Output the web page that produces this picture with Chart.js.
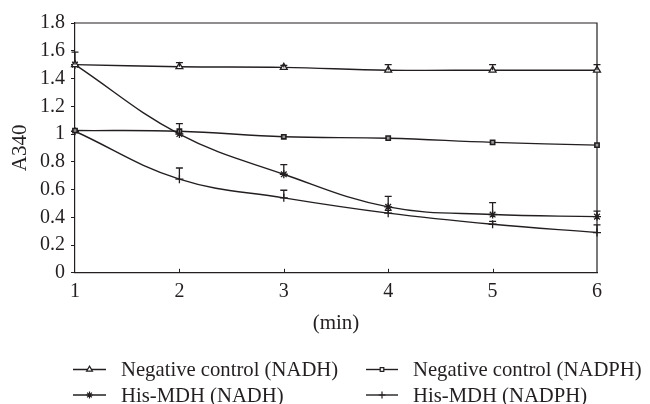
<!DOCTYPE html>
<html>
<head>
<meta charset="utf-8">
<script src="https://cdn.jsdelivr.net/npm/chart.js@4/dist/chart.umd.min.js"></script>
<style>
  html, body { margin: 0; padding: 0; background: #ffffff; }
  #wrap { width: 650px; height: 404px; position: relative; }
</style>
</head>
<body>
<div id="wrap"><canvas id="c" width="650" height="404"></canvas></div>
<script>
// ---- data ----
const timeLabels = ['1', '2', '3', '4', '5', '6'];
const yTickValues = [0, 0.2, 0.4, 0.6, 0.8, 1, 1.2, 1.4, 1.6, 1.8];

const seriesNames = ['Negative control (NADH)', 'Negative control (NADPH)', 'His-MDH (NADH)', 'His-MDH (NADPH)'];

const negNADH      = [1.50, 1.485, 1.48, 1.46, 1.46, 1.46];
const negNADHErr   = [0.00, 0.03, 0.015, 0.04, 0.04, 0.04];

const negNADPH     = [1.025, 1.02, 0.98, 0.97, 0.94, 0.92];
const negNADPHErr  = [0.00, 0.00, 0.00, 0.00, 0.00, 0.00];

const hisNADH      = [1.50, 1.00, 0.71, 0.475, 0.42, 0.405];
const hisNADHErr   = [0.09, 0.075, 0.07, 0.075, 0.085, 0.04];

const hisNADPH     = [1.02, 0.675, 0.54, 0.43, 0.35, 0.29];
const hisNADPHErr  = [0.00, 0.08, 0.055, 0.02, 0.02, 0.055];

const pointStyles = ['triangle', 'rect', 'star', 'cross'];
const seriesValues = [negNADH, negNADPH, hisNADH, hisNADPH];
const seriesErrors = [negNADHErr, negNADPHErr, hisNADHErr, hisNADPHErr];

// ---- styles ----
const INK = '#231f20';
const FONT = "'Liberation Serif', 'Times New Roman', serif";
const pointRadii = [4, 3, 4, 4];

const datasets = seriesNames.map((name, i) => ({
  label: name,
  data: seriesValues[i],
  errors: seriesErrors[i],
  borderColor: INK,
  backgroundColor: '#ffffff',
  borderWidth: 1.4,
  tension: 0.4,
  pointStyle: pointStyles[i],
  pointRadius: pointRadii[i],
  pointBorderWidth: i === 1 ? 1.6 : 1.3,
  pointBackgroundColor: i === 1 ? '#9a9a9a' : '#ffffff',
  pointBorderColor: INK,
  clip: false
}));

// error bars (upward, with cap)
const errorBars = {
  id: 'errorBars',
  afterDatasetsDraw(chart) {
    const ctx = chart.ctx;
    const xs = chart.scales.x, ys = chart.scales.y;
    ctx.save();
    ctx.strokeStyle = INK;
    ctx.lineWidth = 1.3;
    chart.data.datasets.forEach(ds => {
      ds.data.forEach((v, i) => {
        const e = ds.errors[i];
        if (!e) return;
        const x = xs.getPixelForValue(i);
        const y0 = ys.getPixelForValue(v);
        const y1 = ys.getPixelForValue(v + e);
        ctx.beginPath();
        ctx.moveTo(x, y0);
        ctx.lineTo(x, y1);
        ctx.moveTo(x - 3.5, y1);
        ctx.lineTo(x + 3.5, y1);
        ctx.stroke();
      });
    });
    ctx.restore();
  }
};

// frame (top + right) and inward x tick marks
const frame = {
  id: 'frame',
  beforeDatasetsDraw(chart) {
    const {ctx, chartArea: a} = chart;
    const xs = chart.scales.x;
    ctx.save();
    ctx.strokeStyle = INK;
    ctx.lineWidth = 1.2;
    ctx.beginPath();
    ctx.moveTo(a.left, a.top);
    ctx.lineTo(a.right, a.top);
    ctx.lineTo(a.right, a.bottom);
    ctx.stroke();
    ctx.lineWidth = 1;
    ctx.beginPath();
    for (let i = 1; i < timeLabels.length - 1; i++) {
      const x = Math.round(xs.getPixelForValue(i)) + 0.5;
      ctx.moveTo(x, a.bottom);
      ctx.lineTo(x, a.bottom - 4);
    }
    ctx.stroke();
    ctx.restore();
  }
};

// legend in two columns
const legend2 = {
  id: 'legend2',
  afterDraw(chart) {
    const ctx = chart.ctx;
    const cols = [{x0: 73, x1: 106, tx: 121}, {x0: 366, x1: 398, tx: 413}];
    const rows = [369.5, 395];
    ctx.save();
    ctx.font = "20.7px " + FONT;
    ctx.fillStyle = INK;
    ctx.textBaseline = 'alphabetic';
    chart.data.datasets.forEach((ds, i) => {
      const c = cols[i % 2], y = rows[Math.floor(i / 2)];
      ctx.strokeStyle = INK;
      ctx.lineWidth = 1.4;
      ctx.beginPath();
      ctx.moveTo(c.x0, y);
      ctx.lineTo(c.x1, y);
      ctx.stroke();
      const mx = (c.x0 + c.x1) / 2;
      const opts = {pointStyle: ds.pointStyle, radius: ds.pointRadius * 0.85, borderWidth: 1.2, rotation: 0};
      ctx.fillStyle = '#ffffff';
      ctx.strokeStyle = INK;
      ctx.lineWidth = 1.2;
      if (Chart.helpers && Chart.helpers.drawPoint) {
        Chart.helpers.drawPoint(ctx, opts, mx, y);
      }
      ctx.fillStyle = INK;
      ctx.fillText(ds.label, c.tx, y + 6.5);
    });
    ctx.restore();
  }
};

new Chart(document.getElementById('c'), {
  type: 'line',
  data: { labels: timeLabels, datasets },
  options: {
    responsive: false,
    animation: false,
    devicePixelRatio: 1,
    layout: { padding: { left: 0, right: 53, top: 23, bottom: 68 } },
    plugins: { legend: { display: false }, tooltip: { enabled: false } },
    scales: {
      x: {
        type: 'category',
        offset: false,
        grid: { display: true, drawOnChartArea: false, drawTicks: false, color: INK },
        border: { display: true, color: INK, width: 1.2 },
        ticks: { color: INK, font: { family: FONT, size: 20 }, padding: 7, maxRotation: 0, autoSkip: false },
        title: { display: true, text: '(min)', color: INK, font: { family: FONT, size: 21 }, padding: { top: 0, bottom: 0 } }
      },
      y: {
        min: 0,
        max: 1.8,
        afterBuildTicks(scale) { scale.ticks = yTickValues.map(v => ({ value: v })); },
        afterFit(scale) { scale.width = 75; },
        grid: { display: true, drawOnChartArea: false, drawTicks: true, tickLength: 4, color: INK },
        border: { display: true, color: INK, width: 1.2 },
        ticks: {
          color: INK, font: { family: FONT, size: 20 }, padding: 6, autoSkip: false,
          callback: v => String(Number(v.toFixed(1)))
        },
        title: { display: true, text: 'A340', color: INK, font: { family: FONT, size: 21 }, padding: { top: 8, bottom: 0 } }
      }
    }
  },
  plugins: [frame, errorBars, legend2]
});
</script>
</body>
</html>
